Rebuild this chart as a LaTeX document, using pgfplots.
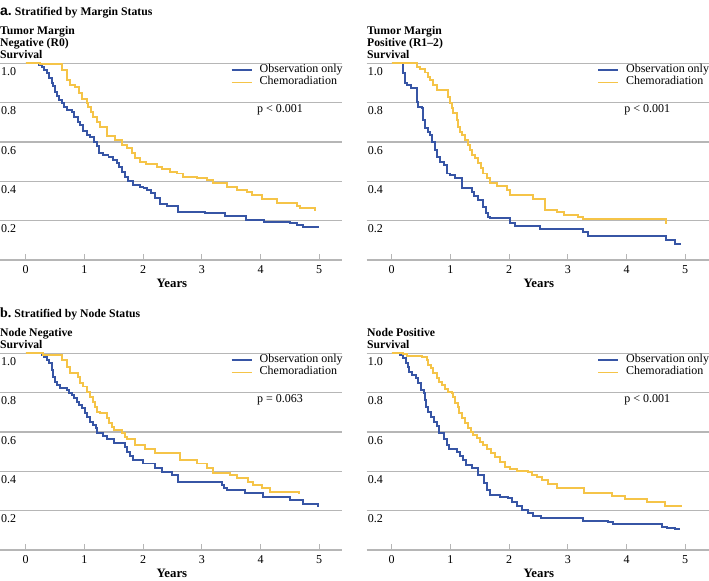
\documentclass[border=0pt]{standalone}
\usepackage{pgfplots}
\pgfplotsset{compat=1.18}
\usepackage{fontspec}
\setmainfont{Liberation Serif}
\newfontfamily\sansfont{Liberation Sans}
\definecolor{obs}{RGB}{55,85,165}
\definecolor{chemo}{RGB}{245,196,72}
\definecolor{gridc}{RGB}{182,182,182}
\newcommand{\tfont}{\fontsize{12bp}{12.5bp}\selectfont}
\newcommand{\hfont}{\fontsize{11.7bp}{12.3bp}\selectfont\bfseries}
\tikzset{ptext/.style={anchor=west, inner sep=0pt, font=\tfont}}
\pgfplotsset{
  km/.style={
    scale only axis,
    x=58.7bp, y=196.7bp,
    ymin=0, ymax=1,
    clip=false,
    axis line style={draw=none},
    ytick={0,0.2,0.4,0.6,0.8,1.0},
    yticklabels={,0.2,0.4,0.6,0.8,1.0},
    ymajorgrids,
    grid style={gridc, line width=1.2bp},
    ytick pos=left,
    xtick pos=bottom,
    major y tick style={draw=none},
    xtick={0,1,2,3,4,5},
    xticklabels={0,1,2,3,4,5},
    tick align=inside,
    major tick length=6bp,
    major x tick style={gridc, line width=1bp},
    yticklabel style={anchor=north west, inner sep=0pt, xshift=1bp, yshift=-4bp, font=\tfont},
    xticklabel style={anchor=north, inner sep=0pt, yshift=-5.5bp, font=\tfont},
    xlabel={Years},
    xlabel style={at={(rel axis cs:0.503,0)}, anchor=base, inner sep=0pt, yshift=-27.5bp, font=\fontsize{12.8bp}{13bp}\selectfont\bfseries},
    every axis plot/.append style={line width=1.9bp, const plot, line join=miter},
    legend cell align=left,
    legend image code/.code={\draw[#1] (0bp,0bp) -- (20bp,0bp);},
    legend style={anchor=north west, draw=none, fill=none, inner sep=0pt, row sep=0pt, column sep=5.5bp,
      font=\tfont, nodes={inner sep=1.5bp, text height=0.72em, text depth=0.25em}},
  },
}
\begin{document}
\begin{tikzpicture}
\useasboundingbox (0bp,0bp) rectangle (709bp,-581bp);

% ---- titles ----
\node[anchor=base west, inner sep=0pt] at (0bp,-15bp) {{\fontsize{14bp}{14bp}\selectfont\sansfont\bfseries a.}\hspace{3bp}{\hfont Stratified by Margin Status}};
\node[anchor=base west, inner sep=0pt] at (0bp,-34bp) {\hfont Tumor Margin};
\node[anchor=base west, inner sep=0pt] at (0bp,-46.3bp) {\hfont Negative (R0)};
\node[anchor=base west, inner sep=0pt] at (0bp,-58.5bp) {\hfont Survival};
\node[anchor=base west, inner sep=0pt] at (367bp,-34bp) {\hfont Tumor Margin};
\node[anchor=base west, inner sep=0pt] at (367bp,-46.3bp) {\hfont Positive (R1–2)};
\node[anchor=base west, inner sep=0pt] at (367bp,-58.5bp) {\hfont Survival};

\node[anchor=base west, inner sep=0pt] at (0bp,-317bp) {{\fontsize{14bp}{14bp}\selectfont\bfseries b.}\hspace{3bp}{\hfont Stratified by Node Status}};
\node[anchor=base west, inner sep=0pt] at (0bp,-336bp) {\hfont Node Negative};
\node[anchor=base west, inner sep=0pt] at (0bp,-348.5bp) {\hfont Survival};
\node[anchor=base west, inner sep=0pt] at (367bp,-336bp) {\hfont Node Positive};
\node[anchor=base west, inner sep=0pt] at (367bp,-348.5bp) {\hfont Survival};

% ---- a, left: margin negative ----
\begin{axis}[km, at={(0bp,-260bp)}, anchor=south west, xmin=-0.438, xmax=5.383,
  legend style={at={(rel axis cs:0.6748,1.0)}}]
\addplot[obs] coordinates {(0,1) (0.233,0.992) (0.273,0.98) (0.313,0.966) (0.358,0.949) (0.403,0.924) (0.443,0.902) (0.472,0.885) (0.5,0.856) (0.528,0.834) (0.574,0.814) (0.614,0.8) (0.659,0.78) (0.699,0.763) (0.784,0.754) (0.824,0.729) (0.898,0.703) (0.926,0.686) (0.972,0.658) (1.04,0.636) (1.097,0.624) (1.165,0.602) (1.21,0.58) (1.25,0.542) (1.324,0.534) (1.41,0.525) (1.494,0.508) (1.55,0.492) (1.59,0.475) (1.636,0.449) (1.693,0.424) (1.75,0.403) (1.835,0.381) (1.95,0.373) (2.006,0.364) (2.062,0.356) (2.136,0.339) (2.205,0.314) (2.29,0.285) (2.403,0.275) (2.6,0.246) (3.054,0.237) (3.395,0.224) (3.747,0.203) (4.06,0.195) (4.5,0.186) (4.616,0.178) (4.73,0.17) (4.985,0.164)};
\addlegendentry{Observation only}
\addplot[chemo] coordinates {(0,1) (0.25,0.995) (0.614,0.966) (0.699,0.915) (0.756,0.89) (0.84,0.881) (0.915,0.847) (0.955,0.817) (1.04,0.797) (1.068,0.78) (1.108,0.754) (1.153,0.729) (1.21,0.703) (1.267,0.678) (1.392,0.63) (1.523,0.61) (1.636,0.585) (1.722,0.568) (1.807,0.542) (1.864,0.517) (1.949,0.5) (2.05,0.488) (2.233,0.475) (2.318,0.461) (2.46,0.449) (2.574,0.44) (2.676,0.424) (2.913,0.415) (3.083,0.407) (3.197,0.39) (3.424,0.373) (3.595,0.356) (3.765,0.347) (3.85,0.33) (4.02,0.31) (4.276,0.288) (4.617,0.275) (4.674,0.266) (4.93,0.249)};
\addlegendentry{Chemoradiation}
\node[ptext] at (axis cs:3.94,0.763) {p < 0.001};
\end{axis}

% ---- a, right: margin positive ----
\begin{axis}[km, at={(366.7bp,-260bp)}, anchor=south west, xmin=-0.426, xmax=5.405,
  legend style={at={(rel axis cs:0.6728,1.0)}}]
\addplot[obs] coordinates {(0,1) (0.198,0.949) (0.227,0.898) (0.255,0.89) (0.329,0.873) (0.425,0.805) (0.454,0.78) (0.51,0.771) (0.539,0.712) (0.567,0.67) (0.624,0.652) (0.653,0.636) (0.681,0.602) (0.738,0.559) (0.766,0.525) (0.823,0.5) (0.897,0.483) (0.936,0.44) (0.993,0.432) (1.078,0.415) (1.203,0.364) (1.374,0.347) (1.408,0.325) (1.476,0.305) (1.561,0.271) (1.607,0.237) (1.646,0.22) (1.675,0.212) (2.015,0.186) (2.1,0.173) (2.526,0.158) (3.254,0.141) (3.338,0.124) (4.68,0.102) (4.826,0.08) (4.928,0.08)};
\addlegendentry{Observation only}
\addplot[chemo] coordinates {(0,1) (0.425,0.983) (0.482,0.969) (0.567,0.953) (0.613,0.932) (0.653,0.915) (0.709,0.89) (0.766,0.864) (0.953,0.83) (0.993,0.797) (1.021,0.771) (1.05,0.746) (1.107,0.712) (1.136,0.678) (1.164,0.652) (1.203,0.636) (1.249,0.61) (1.294,0.585) (1.334,0.559) (1.374,0.534) (1.419,0.517) (1.476,0.492) (1.522,0.466) (1.561,0.44) (1.618,0.415) (1.675,0.39) (1.788,0.376) (1.959,0.356) (2.015,0.331) (2.413,0.308) (2.612,0.254) (2.81,0.246) (2.94,0.229) (3.18,0.217) (3.265,0.207) (4.667,0.183)};
\addlegendentry{Chemoradiation}
\node[ptext] at (axis cs:3.96,0.763) {p < 0.001};
\end{axis}

% ---- b, left: node negative ----
\begin{axis}[km, at={(0bp,-550bp)}, anchor=south west, xmin=-0.438, xmax=5.383,
  legend style={at={(rel axis cs:0.6748,1.0)}}]
\addplot[obs] coordinates {(0,1) (0.272,0.992) (0.312,0.98) (0.357,0.966) (0.403,0.949) (0.442,0.915) (0.471,0.88) (0.499,0.856) (0.528,0.839) (0.584,0.822) (0.698,0.814) (0.743,0.8) (0.783,0.788) (0.823,0.771) (0.868,0.754) (0.914,0.737) (0.953,0.72) (1.01,0.695) (1.05,0.678) (1.095,0.652) (1.152,0.636) (1.198,0.619) (1.22,0.593) (1.311,0.58) (1.391,0.563) (1.505,0.542) (1.692,0.525) (1.731,0.5) (1.777,0.478) (1.834,0.458) (1.993,0.44) (2.203,0.415) (2.316,0.398) (2.487,0.381) (2.6,0.347) (3.339,0.33) (3.379,0.313) (3.424,0.305) (3.736,0.288) (4.048,0.271) (4.5,0.254) (4.73,0.234) (4.986,0.217)};
\addlegendentry{Observation only}
\addplot[chemo] coordinates {(0,1) (0.3,0.99) (0.613,0.966) (0.698,0.932) (0.755,0.902) (0.897,0.881) (0.925,0.847) (0.982,0.831) (1.039,0.805) (1.095,0.78) (1.141,0.754) (1.18,0.729) (1.22,0.703) (1.266,0.695) (1.379,0.669) (1.425,0.647) (1.465,0.627) (1.504,0.61) (1.635,0.597) (1.692,0.576) (1.72,0.563) (1.862,0.534) (2.032,0.512) (2.203,0.492) (2.629,0.458) (2.913,0.44) (3.083,0.415) (3.197,0.393) (3.48,0.381) (3.594,0.364) (3.793,0.347) (3.878,0.33) (4.02,0.313) (4.16,0.297) (4.66,0.285)};
\addlegendentry{Chemoradiation}
\node[ptext] at (axis cs:3.94,0.763) {p = 0.063};
\end{axis}

% ---- b, right: node positive ----
\begin{axis}[km, at={(366.7bp,-550bp)}, anchor=south west, xmin=-0.426, xmax=5.405,
  legend style={at={(rel axis cs:0.6728,1.0)}}]
\addplot[obs] coordinates {(0,1) (0.141,0.992) (0.198,0.975) (0.238,0.949) (0.272,0.932) (0.295,0.907) (0.34,0.89) (0.408,0.873) (0.454,0.847) (0.499,0.814) (0.556,0.8) (0.567,0.763) (0.579,0.725) (0.624,0.703) (0.67,0.678) (0.726,0.652) (0.766,0.63) (0.806,0.593) (0.897,0.563) (0.936,0.534) (0.976,0.512) (1.107,0.5) (1.163,0.478) (1.22,0.458) (1.26,0.432) (1.374,0.415) (1.476,0.381) (1.578,0.339) (1.618,0.305) (1.675,0.28) (1.845,0.271) (1.987,0.263) (2.044,0.246) (2.129,0.224) (2.214,0.203) (2.316,0.186) (2.413,0.173) (2.543,0.161) (3.265,0.149) (3.69,0.142) (3.776,0.13) (4.6,0.119) (4.684,0.11) (4.826,0.105) (4.91,0.105)};
\addlegendentry{Observation only}
\addplot[chemo] coordinates {(0,1) (0.198,0.995) (0.255,0.986) (0.51,0.983) (0.596,0.966) (0.624,0.941) (0.67,0.924) (0.709,0.898) (0.766,0.873) (0.806,0.856) (0.851,0.839) (0.908,0.817) (0.953,0.805) (1.021,0.797) (1.05,0.78) (1.078,0.746) (1.124,0.729) (1.146,0.695) (1.192,0.669) (1.249,0.644) (1.306,0.619) (1.351,0.602) (1.391,0.585) (1.448,0.568) (1.504,0.551) (1.561,0.534) (1.618,0.512) (1.692,0.492) (1.76,0.475) (1.845,0.449) (1.93,0.424) (2.015,0.41) (2.129,0.403) (2.316,0.398) (2.385,0.381) (2.47,0.369) (2.555,0.356) (2.657,0.336) (2.81,0.317) (3.282,0.288) (3.748,0.276) (3.975,0.261) (4.344,0.244) (4.656,0.224) (4.94,0.224)};
\addlegendentry{Chemoradiation}
\node[ptext] at (axis cs:3.96,0.763) {p < 0.001};
\end{axis}
\end{tikzpicture}
\end{document}
